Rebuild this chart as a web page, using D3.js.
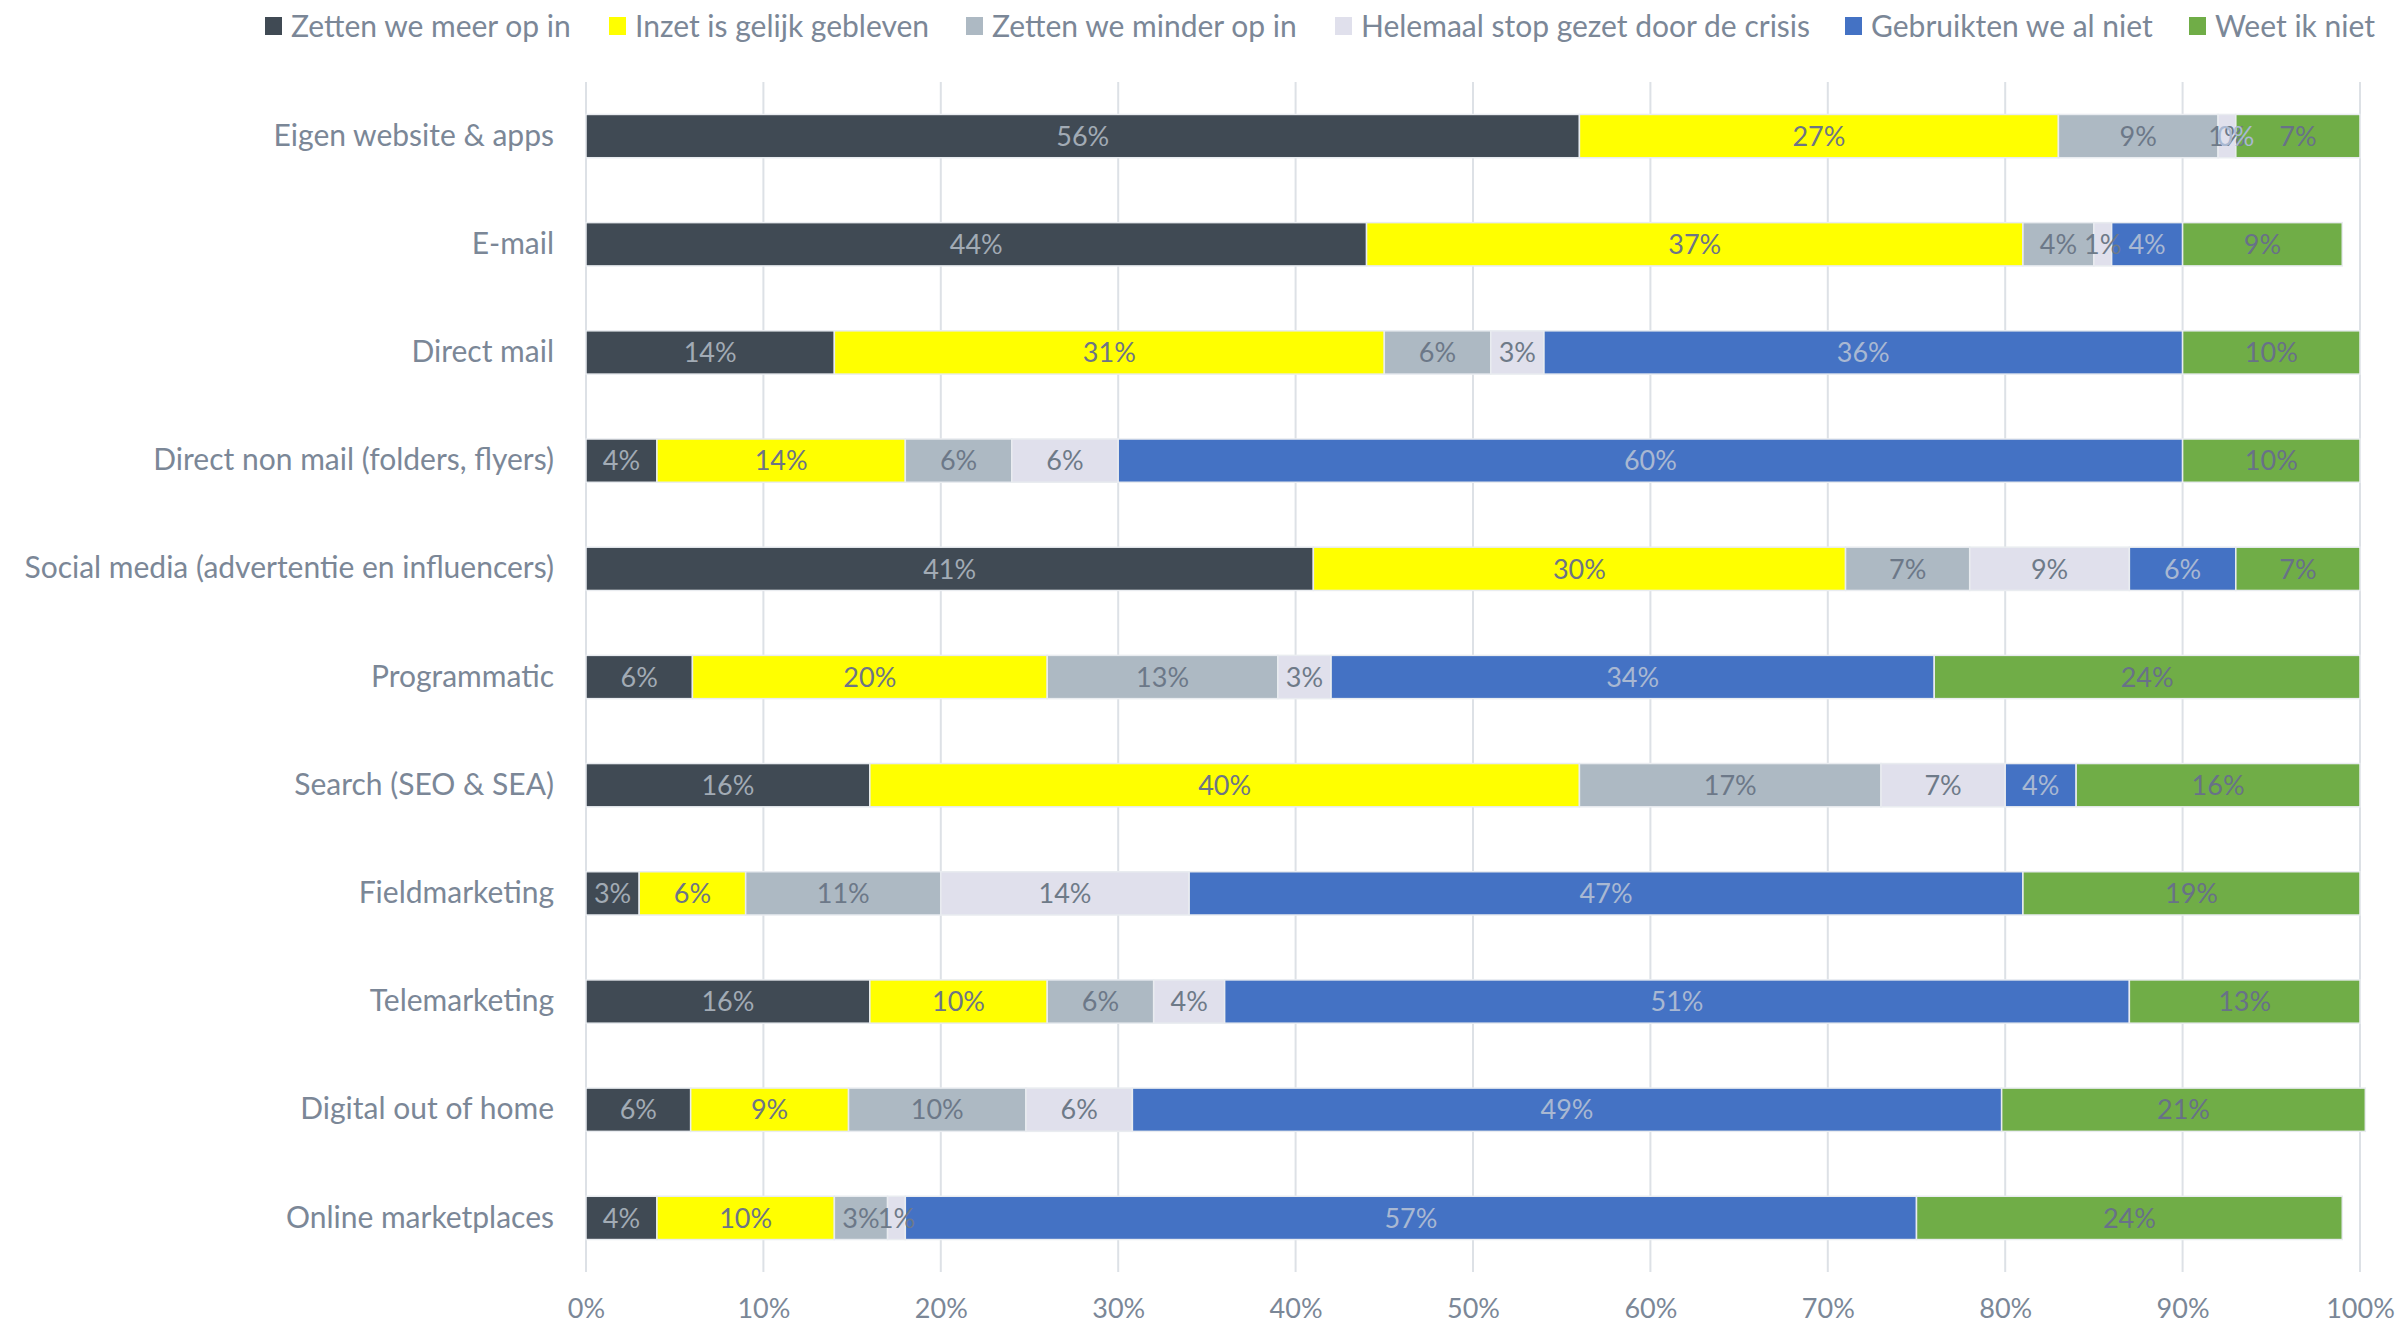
<!DOCTYPE html>
<html>
<head>
<meta charset="utf-8">
<script src="https://cdn.jsdelivr.net/npm/d3@7"></script>
<style>
    body { margin: 0; background: #fff; }
    svg { display: block; }
</style>
</head>
<body>
<div id="chart"></div>
<script>
const categories = [
    "Eigen website & apps",
    "E-mail",
    "Direct mail",
    "Direct non mail (folders, flyers)",
    "Social media (advertentie en influencers)",
    "Programmatic",
    "Search (SEO & SEA)",
    "Fieldmarketing",
    "Telemarketing",
    "Digital out of home",
    "Online marketplaces"
];
const seriesNames = [
    "Zetten we meer op in",
    "Inzet is gelijk gebleven",
    "Zetten we minder op in",
    "Helemaal stop gezet door de crisis",
    "Gebruikten we al niet",
    "Weet ik niet"
];
// one array per series, same order as categories (labels show rounded values)
const meerOpIn    = [56, 44, 14, 4, 41, 6, 16, 3, 16, 5.9, 4];
const gelijk      = [27, 37, 31, 14, 30, 20, 40, 6, 10, 8.9, 10];
const minderOpIn  = [9, 4, 6, 6, 7, 13, 17, 11, 6, 10, 3];
const stopGezet   = [1, 1, 3, 6, 9, 3, 7, 14, 4, 6, 1];
const alNiet      = [0, 4, 36, 60, 6, 34, 4, 47, 51, 49, 57];
const weetNiet    = [7, 9, 10, 10, 7, 24, 16, 19, 13, 20.5, 24];
const xTicks = [0, 10, 20, 30, 40, 50, 60, 70, 80, 90, 100];

const seriesValues = [meerOpIn, gelijk, minderOpIn, stopGezet, alNiet, weetNiet];
const fills = ["#404a54", "#ffff00", "#adb9c3", "#e0e0ec", "#4472c4", "#70ad47"];
const labelColors = ["#a2abb5", "#6d7486", "#6c7888", "#6e7a88", "#a9b8d2", "#687188"];
const textColor = "#7b8797";
const font = "Lato, 'Open Sans', sans-serif";

const width = 2400, height = 1324;
const margin = { top: 82, right: 40, bottom: 52, left: 586 };

const svg = d3.select("#chart").append("svg")
    .attr("width", width)
    .attr("height", height)
    .attr("font-family", font);

const x = d3.scaleLinear()
    .domain([0, 100])
    .range([margin.left, margin.left + 1774]);

const y = d3.scaleBand()
    .domain(categories)
    .range([margin.top, height - margin.bottom])
    .paddingInner(0.6)
    .paddingOuter(0.3);

// gridlines
svg.append("g")
    .selectAll("line")
    .data(xTicks)
    .join("line")
    .attr("x1", d => x(d))
    .attr("x2", d => x(d))
    .attr("y1", margin.top)
    .attr("y2", height - margin.bottom)
    .attr("stroke", "#dde1e6")
    .attr("stroke-width", 2);

// x axis labels
const xAxis = svg.append("g")
    .attr("transform", `translate(0, ${height - margin.bottom})`)
    .call(d3.axisBottom(x).tickValues(xTicks).tickFormat(d => d + "%").tickSize(0).tickPadding(27));
xAxis.select(".domain").remove();
xAxis.selectAll("text")
    .attr("font-family", font)
    .attr("font-size", 27)
    .attr("fill", textColor);

// y axis labels
const yAxis = svg.append("g")
    .attr("transform", `translate(${margin.left}, 0)`)
    .call(d3.axisLeft(y).tickSize(0).tickPadding(32));
yAxis.select(".domain").remove();
yAxis.selectAll("text")
    .attr("font-family", font)
    .attr("font-size", 30)
    .attr("fill", textColor);

// stack the series
const rows = categories.map((c, i) => {
    let row = { category: c };
    seriesNames.forEach((s, j) => row[s] = seriesValues[j][i]);
    return row;
});
const stacked = d3.stack().keys(seriesNames)(rows);

const layers = svg.append("g")
    .selectAll("g")
    .data(stacked)
    .join("g")
    .attr("fill", (d, i) => fills[i]);

layers.selectAll("rect")
    .data(d => d)
    .join("rect")
    .attr("x", d => x(d[0]))
    .attr("y", d => y(d.data.category))
    .attr("width", d => x(d[1]) - x(d[0]))
    .attr("height", y.bandwidth())
    .attr("stroke", "#e9ecf0")
    .attr("stroke-width", 1.5);

// data labels
const labelLayers = svg.append("g")
    .selectAll("g")
    .data(stacked)
    .join("g")
    .attr("fill", (d, i) => labelColors[i]);

labelLayers.selectAll("text")
    .data(d => d)
    .join("text")
    .attr("x", d => x((d[0] + d[1]) / 2))
    .attr("y", d => y(d.data.category) + y.bandwidth() / 2)
    .attr("dy", "0.36em")
    .attr("text-anchor", "middle")
    .attr("font-size", 27)
    .text(d => Math.round(d[1] - d[0]) + "%");

// legend
const legendX = [265, 609, 966, 1335, 1845, 2189];
const legend = svg.append("g")
    .selectAll("g")
    .data(seriesNames)
    .join("g")
    .attr("transform", (d, i) => `translate(${legendX[i]}, 26)`);
legend.append("rect")
    .attr("x", 0)
    .attr("y", -9)
    .attr("width", 17)
    .attr("height", 18)
    .attr("fill", (d, i) => fills[i]);
legend.append("text")
    .attr("x", 26)
    .attr("dy", "0.36em")
    .attr("font-size", 30)
    .attr("fill", textColor)
    .text(d => d);
</script>
</body>
</html>
